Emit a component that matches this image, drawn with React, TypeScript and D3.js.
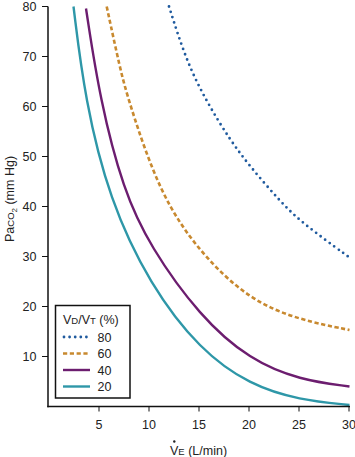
import React from "react";
import * as d3 from "d3";

const xTicks = [5, 10, 15, 20, 25, 30];
const yTicks = [10, 20, 30, 40, 50, 60, 70, 80];

const ve20 = [2.4, 3.55, 5.98, 10.05, 15.05, 20.05, 25, 30];
const pa20 = [80, 61.3, 41.4, 24.3, 11.3, 4.3, 1.3, 0.3];

const ve40 = [3.65, 5.05, 7.38, 10.05, 15.05, 20.05, 25.05, 30];
const pa40 = [79.6, 61.3, 43.3, 32, 18, 9.3, 5.3, 4];

const ve60 = [5.72, 7.05, 7.88, 11, 15, 20, 25, 30];
const pa60 = [80, 67.6, 61.3, 42.6, 30.8, 21.3, 17.3, 15.3];

const ve80 = [11.95, 13.7, 15.7, 18.05, 20.05, 22.9, 25.05, 30];
const pa80 = [80, 69, 61, 53.3, 48, 41.4, 37, 29.8];

const seriesLabels = ["80", "60", "40", "20"];
const colors = ["#1f5a9e", "#c8892f", "#6c1d6f", "#2e97a8"];

const W = 355;
const H = 457;

export default function App() {
  const x = d3.scaleLinear().domain([0, 30]).range([49.5, 349.5]);
  const y = d3.scaleLinear().domain([0, 80]).range([406.5, 6.5]);
  const line = d3
    .line<[number, number]>()
    .x((d) => x(d[0]))
    .y((d) => y(d[1]))
    .curve(d3.curveBasis);

  const zip = (a: number[], b: number[]) => a.map((v, i) => [v, b[i]] as [number, number]);
  const series = [
    { data: zip(ve80, pa80), color: colors[0], style: "dot" },
    { data: zip(ve60, pa60), color: colors[1], style: "dash" },
    { data: zip(ve40, pa40), color: colors[2], style: "solid" },
    { data: zip(ve20, pa20), color: colors[3], style: "solid" },
  ];

  const strokeProps = (s: string) => {
    if (s === "dot") return { strokeWidth: 2.8, strokeDasharray: "0 5.6", strokeLinecap: "round" as const };
    if (s === "dash") return { strokeWidth: 2.6, strokeDasharray: "4.2 2.6", strokeLinecap: "butt" as const };
    return { strokeWidth: 2.4, strokeLinecap: "butt" as const };
  };

  const font = "'Liberation Sans', Arial, Helvetica, sans-serif";
  const axisY0 = y(0);
  const axisX0 = 48;

  const legX = 55.5;
  const legY = 305.5;
  const legW = 74.5;
  const legH = 92.5;
  const rowY = [337, 353.5, 370, 386.5];

  return (
    <svg
      width={W}
      height={H}
      style={{ position: "absolute", left: 0, top: 0, background: "#fff" }}
      fontFamily={font}
    >
      {series.map((s, i) => (
        <path key={i} d={line(s.data) || ""} fill="none" stroke={s.color} {...strokeProps(s.style)} />
      ))}

      <line x1={axisX0} x2={axisX0} y1={y(80)} y2={axisY0 + 0.75} stroke="#111" strokeWidth={1.5} />
      <line x1={axisX0 - 0.75} x2={x(30) + 0.5} y1={axisY0} y2={axisY0} stroke="#111" strokeWidth={1.5} />
      {yTicks.map((t) => (
        <g key={"y" + t}>
          <line x1={axisX0 - 6} x2={axisX0} y1={y(t)} y2={y(t)} stroke="#111" strokeWidth={1} />
          <text x={36.5} y={y(t) + 4.5} textAnchor="end" fontSize={12.5} fill="#222">
            {t}
          </text>
        </g>
      ))}
      {xTicks.map((t) => (
        <g key={"x" + t}>
          <line x1={x(t) - 0.5} x2={x(t) - 0.5} y1={axisY0} y2={axisY0 + 5} stroke="#111" strokeWidth={1} />
          <text x={x(t) - 0.5} y={429} textAnchor="middle" fontSize={12.5} fill="#222">
            {t}
          </text>
        </g>
      ))}

      <text transform="translate(14,199) rotate(-90)" textAnchor="middle" fontSize={12.5} fill="#222">
        Pa
        <tspan fontSize={9.5}>CO</tspan>
        <tspan fontSize={8} dy={2.5}>2</tspan>
        <tspan dy={-2.5}> (mm Hg)</tspan>
      </text>

      <text x={170} y={455} fontSize={12.5} fill="#222">
        V<tspan fontSize={9.5}>E</tspan> (L/min)
      </text>
      <circle cx={174.3} cy={441.5} r={1.2} fill="#222" />

      <rect x={legX} y={legY} width={legW} height={legH} fill="#fff" stroke="#111" strokeWidth={1.5} />
      <text x={63} y={323.5} fontSize={12.5} fill="#222">
        V<tspan fontSize={9.5}>D</tspan>/V<tspan fontSize={9.5}>T</tspan> (%)
      </text>
      {series.map((s, i) => (
        <g key={"l" + i}>
          <line x1={s.style === "dot" ? 64 : 63} x2={90} y1={rowY[i]} y2={rowY[i]} stroke={s.color} {...strokeProps(s.style)} />
          <text x={97.5} y={rowY[i] + 4.5} fontSize={12.5} fill="#222">
            {seriesLabels[i]}
          </text>
        </g>
      ))}
    </svg>
  );
}
